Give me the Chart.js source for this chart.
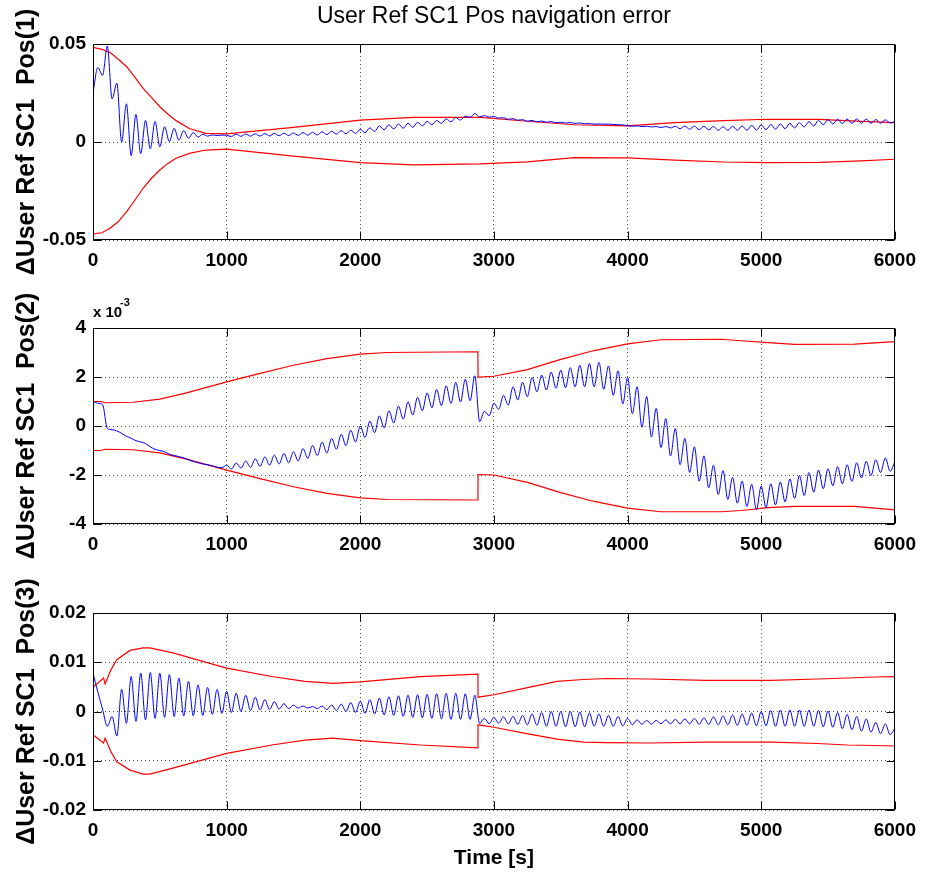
<!DOCTYPE html>
<html>
<head>
<meta charset="utf-8">
<title>User Ref SC1 Pos navigation error</title>
<script src="https://cdn.jsdelivr.net/npm/chart.js@4.4.0/dist/chart.umd.min.js"></script>
<style>
  html, body { margin: 0; padding: 0; background: #fff; }
  .panel { position: absolute; left: 0; width: 925px; }
</style>
</head>
<body>
<div class="panel" style="top:0px;height:285px"><canvas id="pos1" width="925" height="285"></canvas></div>
<div class="panel" style="top:285px;height:285px"><canvas id="pos2" width="925" height="285"></canvas></div>
<div class="panel" style="top:570px;height:305px"><canvas id="pos3" width="925" height="305"></canvas></div>
<script>
// axis ticks
const timeTicks = [0, 1000, 2000, 3000, 4000, 5000, 6000];
const pos1Ticks = [-0.05, 0, 0.05];
const pos2Ticks = [-4, -2, 0, 2, 4];          // x 10^-3
const pos3Ticks = [-0.02, -0.01, 0, 0.01, 0.02];

// navigation error (blue) is sampled every 6000/168 s
const sampleStep = 6000 / 168;

const pos1Error = [
  0.025, 0.038, 0.034, 0.049, 0.022, 0.03, 0.0, 0.0195, -0.007, 0.014, -0.006, 0.011, -0.0035, 0.0105,
  -0.0024, 0.0078, 0.0002, 0.007, 0.001, 0.0058, 0.0019, 0.0048, 0.0025, 0.004, 0.003, 0.0036, 0.0033, 0.0035,
  0.0034, 0.0028, 0.004, 0.0029, 0.0041, 0.003, 0.0042, 0.003, 0.0043, 0.0031, 0.0044, 0.0032, 0.0045, 0.0033,
  0.0046, 0.0034, 0.0048, 0.0035, 0.005, 0.0036, 0.0052, 0.0038, 0.0055, 0.004, 0.0058, 0.0042, 0.006, 0.0044,
  0.0064, 0.0048, 0.0072, 0.0054, 0.0082, 0.0062, 0.0088, 0.0066, 0.0092, 0.007, 0.0096, 0.0075, 0.01, 0.0082,
  0.0105, 0.0088, 0.011, 0.0095, 0.0118, 0.0103, 0.0125, 0.0112, 0.0132, 0.0125, 0.0145, 0.0128, 0.0135, 0.0127,
  0.013, 0.0122, 0.0124, 0.0116, 0.0119, 0.0111, 0.0114, 0.0106, 0.011, 0.0103, 0.0107, 0.0101, 0.0104, 0.0098,
  0.0101, 0.0097, 0.0099, 0.0095, 0.0097, 0.0093, 0.0094, 0.0091, 0.0092, 0.0091, 0.0091, 0.009, 0.0088, 0.0087,
  0.0083, 0.0081, 0.0082, 0.0079, 0.008, 0.0077, 0.0079, 0.0074, 0.0079, 0.0072, 0.008, 0.0068, 0.0081, 0.0065,
  0.0081, 0.0063, 0.008, 0.0062, 0.0079, 0.006, 0.0078, 0.006, 0.008, 0.006, 0.0082, 0.006, 0.0085, 0.0061,
  0.0087, 0.0063, 0.0089, 0.0066, 0.0092, 0.0068, 0.0095, 0.0072, 0.0099, 0.0077, 0.0104, 0.0082, 0.011, 0.0088,
  0.0114, 0.0092, 0.0116, 0.0094, 0.0117, 0.0095, 0.0118, 0.0096, 0.0117, 0.0096, 0.0115, 0.0096, 0.0113, 0.0097,
  0.0105
];

const pos2Error = [ // x 10^-3
  1.0, 0.93, 0.88, -0.1, -0.15, -0.2, -0.3, -0.42, -0.5, -0.6, -0.65, -0.72, -0.85, -0.95,
  -1.0, -1.05, -1.15, -1.2, -1.25, -1.3, -1.38, -1.45, -1.5, -1.55, -1.58, -1.62, -1.68, -1.7,
  -1.6, -1.76, -1.51, -1.72, -1.43, -1.69, -1.34, -1.65, -1.26, -1.6, -1.19, -1.55, -1.12, -1.5,
  -1.05, -1.43, -0.92, -1.32, -0.79, -1.21, -0.66, -1.1, -0.51, -0.95, -0.34, -0.8, -0.17, -0.65,
  0.0, -0.47, 0.2, -0.27, 0.41, -0.08, 0.62, 0.12, 0.81, 0.28, 0.99, 0.45, 1.17, 0.62,
  1.35, 0.75, 1.49, 0.83, 1.64, 0.92, 1.78, 0.98, 1.91, 1.03, 2.05, 0.18, 0.6, 0.42,
  0.93, 0.68, 1.25, 0.86, 1.6, 1.06, 1.78, 1.2, 1.98, 1.4, 2.08, 1.47, 2.2, 1.54,
  2.28, 1.56, 2.38, 1.6, 2.48, 1.6, 2.55, 1.6, 2.6, 1.5, 2.45, 1.25, 2.25, 0.9,
  1.98, 0.5, 1.6, -0.05, 1.2, -0.45, 0.72, -0.88, 0.3, -1.22, -0.1, -1.58, -0.5, -1.9,
  -0.85, -2.25, -1.22, -2.52, -1.6, -2.8, -1.82, -3.0, -2.1, -3.15, -2.25, -3.28, -2.38, -3.42,
  -2.45, -3.33, -2.36, -3.22, -2.28, -3.1, -2.16, -2.96, -2.02, -2.84, -1.9, -2.7, -1.8, -2.56,
  -1.74, -2.44, -1.66, -2.36, -1.58, -2.26, -1.5, -2.12, -1.44, -2.02, -1.38, -1.9, -1.3, -1.85,
  -1.45
];

const pos3Error = [
  0.0078, 0.004, 0.0005, -0.003, -0.001, -0.005, 0.0045, -0.0024, 0.0071, -0.002, 0.0078, -0.0017, 0.0079, -0.0014,
  0.0078, -0.0012, 0.0075, -0.001, 0.0068, -0.0009, 0.0061, -0.0009, 0.0054, -0.0008, 0.0049, -0.0006, 0.0045, -0.0004,
  0.0041, -0.0002, 0.0037, 0.0, 0.0033, 0.0002, 0.0029, 0.0003, 0.0024, 0.0004, 0.002, 0.0005, 0.0016, 0.0006,
  0.0013, 0.0007, 0.0011, 0.0007, 0.001, 0.0006, 0.0011, 0.0004, 0.0013, 0.0002, 0.0015, 0.0, 0.0018, -0.0002,
  0.0021, -0.0004, 0.0024, -0.0005, 0.0027, -0.0007, 0.003, -0.0008, 0.0032, -0.001, 0.0033, -0.0012, 0.0034, -0.0013,
  0.0035, -0.0014, 0.0036, -0.0015, 0.0037, -0.0016, 0.0037, -0.0016, 0.0036, -0.0016, 0.0033, -0.0024, -0.0014, -0.0025,
  -0.0012, -0.0024, -0.0011, -0.0025, -0.001, -0.0026, -0.0008, -0.0027, -0.0005, -0.0028, -0.0002, -0.003, 0.0, -0.003,
  0.0, -0.0031, 0.0, -0.0031, -0.0001, -0.0031, -0.0003, -0.003, -0.0005, -0.003, -0.0008, -0.003, -0.001, -0.0029,
  -0.0014, -0.0027, -0.0017, -0.0026, -0.0018, -0.0026, -0.0018, -0.0025, -0.0017, -0.0025, -0.0016, -0.0025, -0.0015, -0.0025,
  -0.0014, -0.0026, -0.0013, -0.0026, -0.0011, -0.0027, -0.0009, -0.0027, -0.0007, -0.0028, -0.0005, -0.0028, -0.0003, -0.0029,
  0.0, -0.0029, 0.0002, -0.003, 0.0003, -0.003, 0.0003, -0.003, 0.0003, -0.003, 0.0003, -0.003, 0.0002, -0.0031,
  0.0001, -0.0032, -0.0002, -0.0035, -0.0006, -0.0037, -0.001, -0.004, -0.0015, -0.0042, -0.0022, -0.0045, -0.0025, -0.0047,
  -0.0034
];

// covariance bounds (red)
const pos1BoundTime = [0, 67, 128, 190, 252, 314, 375, 437, 500, 560, 622, 721, 844, 1000, 1500, 2000, 2400, 2900, 3250, 3600, 4000, 4350, 4720, 5040, 5435, 5750, 6000];
const pos1Upper = [0.0483, 0.0473, 0.0456, 0.0422, 0.0384, 0.033, 0.0274, 0.0228, 0.018, 0.0143, 0.0109, 0.0069, 0.0044, 0.0041, 0.0075, 0.0112, 0.0126, 0.0126, 0.0106, 0.0088, 0.0082, 0.0099, 0.0109, 0.0116, 0.0115, 0.0105, 0.0099];
const pos1Lower = [-0.0469, -0.0463, -0.044, -0.0406, -0.0355, -0.0296, -0.0236, -0.0185, -0.0143, -0.0109, -0.0083, -0.0058, -0.0041, -0.0036, -0.0072, -0.0105, -0.0117, -0.0112, -0.0101, -0.008, -0.0081, -0.0092, -0.0102, -0.0105, -0.0104, -0.0096, -0.0088];

const pos2BoundTime = [0, 60, 90, 300, 500, 700, 1000, 1250, 1500, 1750, 2000, 2200, 2880, 2881, 3000, 3250, 3500, 3750, 4000, 4250, 4700, 4850, 5050, 5250, 5700, 6000];
const pos2Upper = [1.0, 1.0, 0.95, 0.97, 1.1, 1.35, 1.8, 2.15, 2.48, 2.75, 2.93, 3.0, 3.03, 2.0, 2.03, 2.3, 2.72, 3.08, 3.35, 3.52, 3.54, 3.48, 3.4, 3.33, 3.34, 3.44];
const pos2Lower = [-1.0, -1.0, -0.95, -0.97, -1.1, -1.35, -1.8, -2.15, -2.48, -2.75, -2.93, -3.0, -3.02, -1.98, -2.0, -2.3, -2.72, -3.08, -3.35, -3.5, -3.5, -3.45, -3.33, -3.28, -3.28, -3.42];

const pos3BoundTime = [0, 79, 91, 135, 178, 277, 375, 425, 598, 1000, 1338, 1585, 1795, 2000, 2450, 2880, 2881, 3000, 3225, 3472, 3669, 3842, 4163, 4583, 5077, 5422, 5645, 5842, 6000];
const pos3Upper = [0.0049, 0.0068, 0.0056, 0.0085, 0.0105, 0.0124, 0.0129, 0.0129, 0.0119, 0.0088, 0.0071, 0.0061, 0.0057, 0.006, 0.0071, 0.0076, 0.0029, 0.0034, 0.0047, 0.0061, 0.0065, 0.0067, 0.0066, 0.0063, 0.0063, 0.0066, 0.0068, 0.007, 0.0071];
const pos3Lower = [-0.0047, -0.0064, -0.0054, -0.0082, -0.0102, -0.0119, -0.0127, -0.0127, -0.0115, -0.0085, -0.0068, -0.0058, -0.0054, -0.0059, -0.0068, -0.0074, -0.0027, -0.0032, -0.0044, -0.0056, -0.0062, -0.0063, -0.0064, -0.0062, -0.0062, -0.0065, -0.0068, -0.0069, -0.007];

Chart.defaults.font.family = "'Liberation Sans', Arial, Helvetica, sans-serif";
Chart.defaults.color = '#000';

function toPoints(values, times) {
    return values.map((v, i) => ({ x: times ? times[i] : i * sampleStep, y: v }));
}

// MATLAB style box with inward tick marks, plus an optional exponent note
const matlabFrame = {
    id: 'matlabFrame',
    afterDraw(chart, args, opts) {
        const { ctx, chartArea: a, scales } = chart;
        const left = Math.round(a.left) + 0.5, right = Math.round(a.right) - 0.5;
        const top = Math.round(a.top) + 0.5, bottom = Math.round(a.bottom) - 0.5;
        ctx.save();
        ctx.strokeStyle = '#000';
        ctx.lineWidth = 1;
        ctx.beginPath();
        scales.x.ticks.forEach(t => {
            const px = Math.round(scales.x.getPixelForValue(t.value)) + 0.5;
            ctx.moveTo(px, bottom); ctx.lineTo(px, bottom - 8);
            ctx.moveTo(px, top); ctx.lineTo(px, top + 8);
        });
        scales.y.ticks.forEach(t => {
            const py = Math.round(scales.y.getPixelForValue(t.value)) + 0.5;
            ctx.moveTo(left, py); ctx.lineTo(left + 8, py);
            ctx.moveTo(right, py); ctx.lineTo(right - 8, py);
        });
        ctx.stroke();
        ctx.strokeRect(left, top, right - left, bottom - top);
        if (opts.exponent) {
            ctx.fillStyle = '#000';
            ctx.textBaseline = 'alphabetic';
            ctx.font = "bold 15px 'Liberation Sans', Arial, sans-serif";
            ctx.fillText('x 10', a.left, a.top - 11);
            ctx.font = "bold 11px 'Liberation Sans', Arial, sans-serif";
            ctx.fillText(opts.exponent, a.left + 27, a.top - 22);
        }
        ctx.restore();
    }
};

function createPanel(canvasId, p) {
    const ctx = document.getElementById(canvasId).getContext('2d');
    const red = { borderColor: '#ff0000', borderWidth: 1.2, tension: 0 };

    new Chart(ctx, {
        type: 'line',
        data: {
            datasets: [
                { data: toPoints(p.error), borderColor: '#0000ff', borderWidth: 1, cubicInterpolationMode: 'monotone' },
                Object.assign({ data: toPoints(p.upper, p.boundTime) }, red),
                Object.assign({ data: toPoints(p.lower, p.boundTime) }, red)
            ]
        },
        options: {
            responsive: false,
            animation: false,
            events: [],
            parsing: false,
            elements: { point: { radius: 0 } },
            layout: { padding: { top: p.padTop, right: 22, left: 0, bottom: 0 } },
            scales: {
                x: {
                    type: 'linear',
                    min: 0,
                    max: 6000,
                    afterBuildTicks: s => { s.ticks = timeTicks.map(v => ({ value: v })); },
                    afterFit: s => { s.height = p.xHeight; },
                    grid: { color: 'rgba(0, 0, 0, 0.7)', lineWidth: 1, drawTicks: false },
                    border: { display: false, dash: [1, 3] },
                    ticks: {
                        padding: 9,
                        maxRotation: 0,
                        autoSkip: false,
                        font: { size: 19, weight: 'bold' },
                        callback: v => String(v)
                    },
                    title: p.xTitle ? {
                        display: true,
                        text: p.xTitle,
                        font: { size: 21, weight: 'bold' },
                        padding: { top: 0, bottom: 4 }
                    } : { display: false }
                },
                y: {
                    min: p.ticks[0],
                    max: p.ticks[p.ticks.length - 1],
                    afterBuildTicks: s => { s.ticks = p.ticks.map(v => ({ value: v })); },
                    afterFit: s => { s.width = 93; },
                    grid: { color: 'rgba(0, 0, 0, 0.7)', lineWidth: 1, drawTicks: false },
                    border: { display: false, dash: [1, 3] },
                    ticks: {
                        padding: 7,
                        font: { size: 19, weight: 'bold' },
                        callback: v => String(v)
                    },
                    title: {
                        display: true,
                        text: p.yTitle,
                        font: { size: 25, weight: 'bold' },
                        padding: { top: 12, bottom: 0 }
                    }
                }
            },
            plugins: {
                legend: { display: false },
                tooltip: { enabled: false },
                title: p.title ? {
                    display: true,
                    fullSize: false,
                    text: p.title,
                    font: { size: 23, weight: 'normal' },
                    color: '#000',
                    padding: { top: 3, bottom: 13.4 }
                } : { display: false },
                matlabFrame: { exponent: p.exponent || null }
            }
        },
        plugins: [matlabFrame]
    });
}

createPanel('pos1', {
    title: 'User Ref SC1 Pos navigation error',
    yTitle: '\u0394User Ref SC1  Pos(1)',
    ticks: pos1Ticks, error: pos1Error,
    boundTime: pos1BoundTime, upper: pos1Upper, lower: pos1Lower,
    padTop: 0, xHeight: 45
});
createPanel('pos2', {
    yTitle: '\u0394User Ref SC1  Pos(2)',
    exponent: '-3',
    ticks: pos2Ticks, error: pos2Error,
    boundTime: pos2BoundTime, upper: pos2Upper, lower: pos2Lower,
    padTop: 43, xHeight: 46
});
createPanel('pos3', {
    yTitle: '\u0394User Ref SC1  Pos(3)',
    xTitle: 'Time [s]',
    ticks: pos3Ticks, error: pos3Error,
    boundTime: pos3BoundTime, upper: pos3Upper, lower: pos3Lower,
    padTop: 43, xHeight: 65
});
</script>
</body>
</html>
